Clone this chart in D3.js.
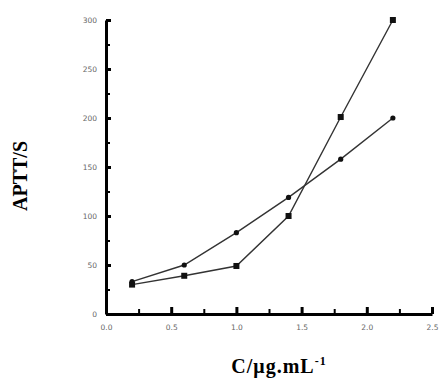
<!DOCTYPE html>
<html>
<head>
<meta charset="utf-8">
<script src="https://cdn.jsdelivr.net/npm/d3@7"></script>
<style>
  html, body { margin: 0; padding: 0; background: #fff; }
  .tick text { font-family: "DejaVu Sans", sans-serif; font-size: 7.5px; fill: #666; }
  .axis path, .axis line { stroke: #000; }
  .title { font-family: "Liberation Serif", serif; font-weight: bold; font-size: 20px; fill: #000; }
</style>
</head>
<body>
<div id="chart"></div>
<script>
// concentration (x) and the two APTT series
const conc       = [0.2, 0.6, 1.0, 1.4, 1.8, 2.2];
const circleVals = [33, 50, 83, 119, 158, 200];
const squareVals = [30, 39, 49, 100, 201, 300];
const xTicks     = [0, 0.5, 1.0, 1.5, 2.0, 2.5];
const yTicks     = [0, 50, 100, 150, 200, 250, 300];

const width = 440, height = 380;
const margin = { left: 106, right: 8, top: 20, bottom: 66 };

const svg = d3.select('#chart').append('svg')
  .attr('width', width)
  .attr('height', height);

const x = d3.scaleLinear().domain([0, 2.5]).range([margin.left, 432]);
const y = d3.scaleLinear().domain([0, 300]).range([height - margin.bottom, margin.top]);

// minor ticks first (short, inward)
const xMinor = d3.range(0.25, 2.5, 0.5);
const yMinor = d3.range(25, 300, 50);

svg.append('g').attr('class', 'axis')
  .attr('transform', `translate(0,${y(0)})`)
  .call(d3.axisTop(x).tickValues(xMinor).tickSize(5).tickFormat(''))
  .call(g => g.select('.domain').remove())
  .call(g => g.selectAll('line').style('stroke-width', '2px'));

svg.append('g').attr('class', 'axis')
  .attr('transform', `translate(${x(0)},0)`)
  .call(d3.axisRight(y).tickValues(yMinor).tickSize(4).tickFormat(''))
  .call(g => g.select('.domain').remove())
  .call(g => g.selectAll('line').style('stroke-width', '2px'));

// x axis: major ticks inward, labels below
const xAxis = svg.append('g').attr('class', 'axis')
  .attr('transform', `translate(0,${y(0)})`)
  .call(d3.axisBottom(x).tickValues(xTicks).tickSizeInner(-7).tickSizeOuter(0)
    .tickPadding(11).tickFormat(d3.format('.1f')));
xAxis.select('.domain').style('stroke-width', '3px');
xAxis.selectAll('line').style('stroke-width', '3px');

// y axis
const yAxis = svg.append('g').attr('class', 'axis')
  .attr('transform', `translate(${x(0)},0)`)
  .call(d3.axisLeft(y).tickValues(yTicks).tickSizeInner(-5).tickSizeOuter(0)
    .tickPadding(9));
yAxis.select('.domain').style('stroke-width', '3px');
yAxis.selectAll('line').style('stroke-width', '3px');

// lines
const line = vals => d3.line()
  .x((d, i) => x(conc[i]))
  .y(d => y(d))(vals);

svg.append('path').attr('d', line(circleVals))
  .attr('fill', 'none').attr('stroke', '#333').attr('stroke-width', 1.4);
svg.append('path').attr('d', line(squareVals))
  .attr('fill', 'none').attr('stroke', '#333').attr('stroke-width', 1.4);

// markers
svg.selectAll('.circ').data(circleVals).join('circle')
  .attr('class', 'circ')
  .attr('cx', (d, i) => x(conc[i]))
  .attr('cy', d => y(d))
  .attr('r', 2.6)
  .attr('fill', '#111');

svg.selectAll('.sq').data(squareVals).join('rect')
  .attr('class', 'sq')
  .attr('x', (d, i) => x(conc[i]) - 3)
  .attr('y', d => y(d) - 3)
  .attr('width', 6)
  .attr('height', 6)
  .attr('fill', '#111');

// axis titles
svg.append('text')
  .attr('class', 'title')
  .attr('transform', `translate(27,176) rotate(-90)`)
  .attr('text-anchor', 'middle')
  .text('APTT/S');

const xt = svg.append('text')
  .attr('class', 'title')
  .attr('x', 279)
  .attr('y', 373)
  .attr('text-anchor', 'middle')
  .attr('letter-spacing', 1);
xt.append('tspan').text('C/μg.mL');
xt.append('tspan').attr('dy', -8).attr('font-size', 12).text('-1');
</script>
</body>
</html>
